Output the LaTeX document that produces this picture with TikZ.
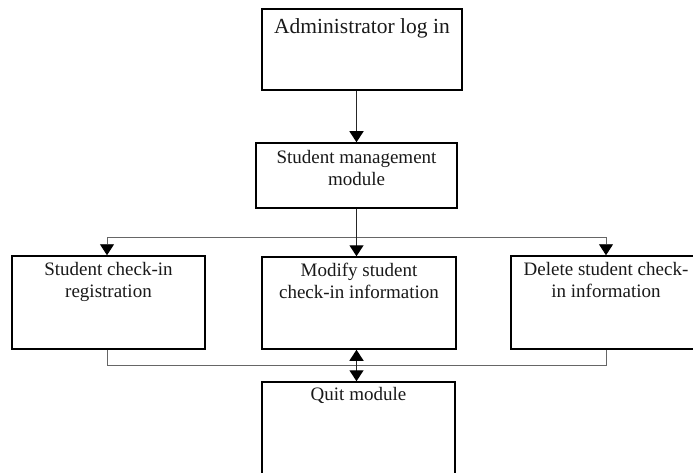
\documentclass[tikz,border=0pt]{standalone}
\usepackage{fontspec}
\setmainfont{Liberation Serif}
\usetikzlibrary{arrows.meta}
\tikzset{
  box/.style={draw=black, line width=1.5pt, inner sep=0pt, fill=white},
  lbl/.style={anchor=north, align=center, inner sep=2pt, text=black!90,
    font=\fontsize{19}{22}\selectfont},
  biglbl/.style={lbl, font=\fontsize{21.5}{25}\selectfont},
  flow/.style={line width=1.3pt, draw=black!85, -{Triangle[width=14pt,length=11pt,color=black]}},
  twoway/.style={line width=1.3pt, draw=black!85,
    {Triangle[width=14pt,length=11pt,color=black]}-{Triangle[width=14pt,length=11pt,color=black]}},
  bus/.style={line width=0.9pt, draw=black!60},
  busarr/.style={bus, -{Triangle[width=14pt,length=11pt,color=black]}},
}
\begin{document}
\begin{tikzpicture}[x=1pt, y=-1pt]
  \useasboundingbox (0,0) rectangle (693,473);
  \clip (0,0) rectangle (693,473);

  % module boxes
  \node[box, minimum width=200, minimum height=81] (admin) at (362,49.5) {};
  \node[box, minimum width=201, minimum height=65] (mgmt)  at (356.5,175.5) {};
  \node[box, minimum width=193, minimum height=93] (reg)   at (108.5,302.5) {};
  \node[box, minimum width=194, minimum height=92] (modify) at (359,303) {};
  \node[box, minimum width=190, minimum height=93] (delete) at (606,302.5) {};
  \node[box, minimum width=193, minimum height=100] (quit) at (358.5,432) {};

  % box texts
  \node[biglbl] (adminT)  at ([yshift=-8pt]admin.north)  {Administrator log in};
  \node[lbl]    (mgmtT)   at ([yshift=-6pt]mgmt.north)   {Student management\\module};
  \node[lbl]    (regT)    at ([yshift=-5pt]reg.north)    {Student check-in\\registration};
  \node[lbl]    (modifyT) at ([yshift=-5pt]modify.north) {Modify student\\check-in information};
  \node[lbl]    (deleteT) at ([yshift=-5pt]delete.north) {Delete student check-\\in information};
  \node[lbl]    (quitT)   at ([yshift=-4pt]quit.north)   {Quit module};

  % branching points
  \coordinate (busL) at (107,237);
  \coordinate (busR) at (606,237);
  \coordinate (retL) at (107,365.5);
  \coordinate (retR) at (606,365.5);

  % log in leads to the management module
  \draw[flow] (admin.south -| mgmt.north) -- (mgmt.north);

  % management module branches to the three operations
  \draw[bus] (busL) -- (busR);
  \draw[busarr] (busL) -- (busL |- reg.north);
  \draw[busarr] (busR) -- (busR |- delete.north);
  \draw[flow] (mgmt.south) -- (mgmt.south |- modify.north);

  % operations return and lead to quitting
  \draw[bus] (busL |- reg.south) -- (retL) -- (retR) -- (busR |- delete.south);
  \draw[twoway] (mgmt.south |- modify.south) -- (mgmt.south |- quit.north);
\end{tikzpicture}
\end{document}
